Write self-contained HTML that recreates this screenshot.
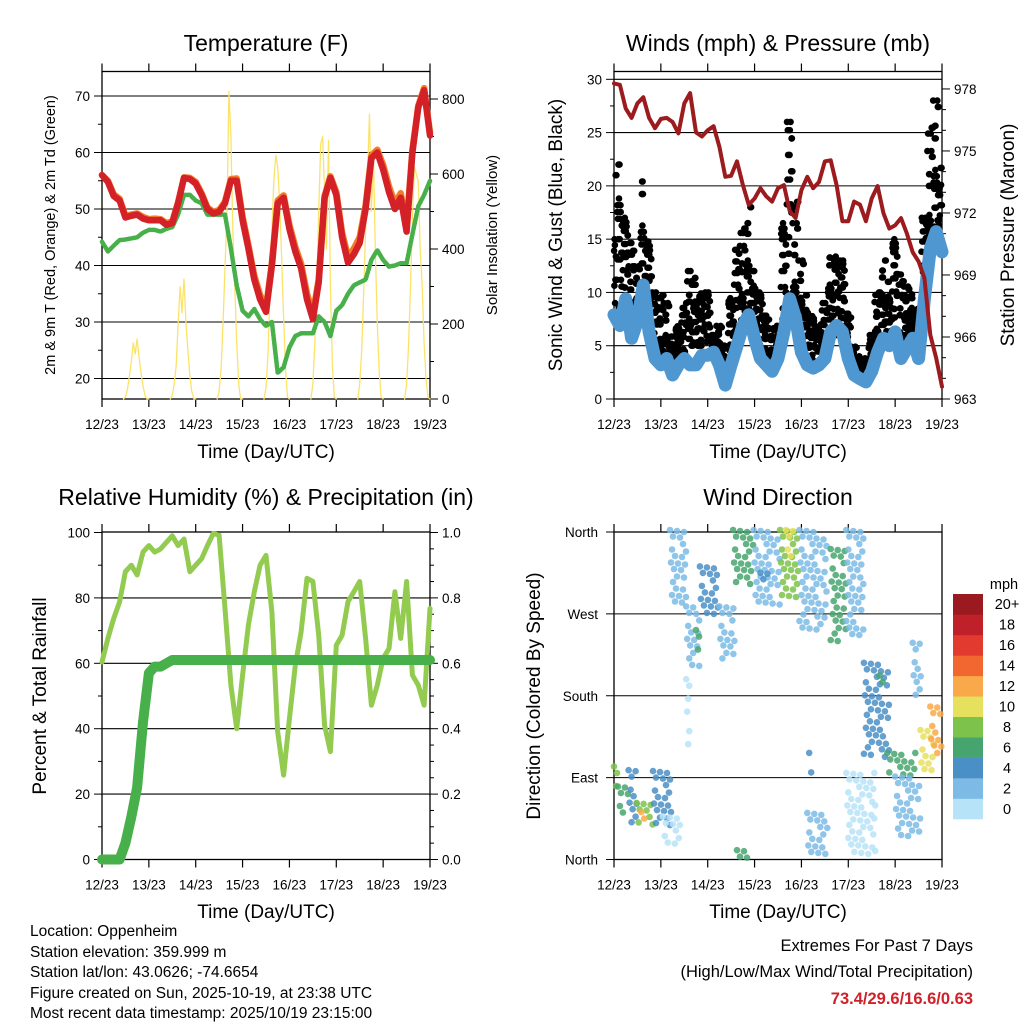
<!DOCTYPE html>
<html><head><meta charset="utf-8"><title>Station Meteogram</title>
<style>
html,body{margin:0;padding:0;background:#fff;}
svg{display:block;font-family:"Liberation Sans",sans-serif;}
</style></head>
<body>
<svg id="chart" width="1024" height="1024" viewBox="0 0 1024 1024" xmlns="http://www.w3.org/2000/svg">
<rect x="0" y="0" width="1024" height="1024" fill="#fff"/>
<text x="266" y="51" font-size="23" text-anchor="middle">Temperature (F)</text>
<text x="778" y="51" font-size="23" text-anchor="middle">Winds (mph) &amp; Pressure (mb)</text>
<text x="266" y="505" font-size="23" text-anchor="middle">Relative Humidity (%) &amp; Precipitation (in)</text>
<text x="778" y="505" font-size="23" text-anchor="middle">Wind Direction</text>
<text x="266" y="458" font-size="19" text-anchor="middle">Time (Day/UTC)</text>
<text x="778" y="458" font-size="19" text-anchor="middle">Time (Day/UTC)</text>
<text x="266" y="918" font-size="19" text-anchor="middle">Time (Day/UTC)</text>
<text x="778" y="918" font-size="19" text-anchor="middle">Time (Day/UTC)</text>
<text transform="translate(55,235) rotate(-90)" font-size="14.5" text-anchor="middle">2m &amp; 9m T (Red, Orange) &amp; 2m Td (Green)</text>
<text transform="translate(497,235) rotate(-90)" font-size="15" text-anchor="middle">Solar Insolation (Yellow)</text>
<text transform="translate(562,235) rotate(-90)" font-size="19" text-anchor="middle">Sonic Wind &amp; Gust (Blue, Black)</text>
<text transform="translate(1014,235) rotate(-90)" font-size="19" text-anchor="middle">Station Pressure (Maroon)</text>
<text transform="translate(46,696) rotate(-90)" font-size="19" text-anchor="middle">Percent &amp; Total Rainfall</text>
<text transform="translate(540,696) rotate(-90)" font-size="19" text-anchor="middle">Direction (Colored By Speed)</text>
<g font-size="15.5">
<text x="30" y="936">Location: Oppenheim</text>
<text x="30" y="957">Station elevation: 359.999 m</text>
<text x="30" y="977">Station lat/lon: 43.0626; -74.6654</text>
<text x="30" y="998">Figure created on Sun, 2025-10-19, at 23:38 UTC</text>
<text x="30" y="1018">Most recent data timestamp: 2025/10/19 23:15:00</text>
</g>
<text x="973" y="951" font-size="16.5" text-anchor="end">Extremes For Past 7 Days</text>
<text x="973" y="977" font-size="16.5" text-anchor="end">(High/Low/Max Wind/Total Precipitation)</text>
<text x="973" y="1004" font-size="16.5" font-weight="bold" fill="#d0212a" text-anchor="end">73.4/29.6/16.6/0.63</text>
<text x="1004" y="589" font-size="14.5" text-anchor="middle">mph</text>
</svg>
<script>
const dayLabels = ["12/23","13/23","14/23","15/23","16/23","17/23","18/23","19/23"];
// 3-hourly series (57 points, index 0 = 12/23 00 UTC)
const temp2m = [56,54.8,52.3,51.5,48.5,48.8,49,48.3,48,48,48,47.2,47.5,51,55.5,55.3,54.5,52.5,50,49.2,49.5,51,55,55,48,43,37.5,34,31.8,40,51,52,46.5,42.5,39.5,34,30.5,37,52,55.5,52.5,45,40.5,42,44,50,59,60,57,53,50,52,46,60,68,71,63];
const temp9m = [56,55,52.6,51.8,48.8,49,49.2,48.6,48.2,48.3,48.2,47.5,47.8,51.2,55.6,55.5,54.8,52.8,50.3,49.5,49.8,51.3,55.3,55.4,48.6,43.6,38.2,34.8,32.5,40.5,51.5,52.4,47.2,43.3,40.3,35,31.5,37.5,52.3,55.8,53,45.8,41.5,43,45,50.6,59.5,60.5,57.8,54,51,52.8,47,60.5,68.3,71.4,63.5];
const dewpoint = [44.2,42.5,43.5,44.5,44.6,44.8,45,45.8,46.3,46.3,46,46.5,46.8,49,52.5,52.5,51.5,51,49,49,49,49,43,36.5,32,31,32.3,30.5,29.3,30,21,22,25.5,27.5,28,28,28,31,30,27.5,32,33,35,36.5,37,37.5,41,42.7,41,39.8,40,40.4,40.4,45.5,50.5,52.5,55];
// solar insolation, hourly W/m2 for hours 12..23 UTC of each day
const solarDay12 = [5,25,60,100,150,120,160,110,70,35,10,0];
const solarDay13 = [10,40,90,200,300,230,320,200,130,60,20,0];
const solarDay14 = [20,80,200,350,500,820,700,450,300,150,40,0];
const solarDay15 = [30,120,280,450,580,650,620,520,380,220,80,5];
const solarDay16 = [40,150,300,500,680,700,550,400,690,300,90,5];
const solarDay17 = [40,130,280,450,600,760,500,650,400,200,70,5];
const solarDay18 = [40,140,300,480,620,600,580,400,300,150,50,5];
const pressure = [978.27,978.2,977.06,976.6,977.3,977.6,976.6,976.1,976.55,976.6,976.4,975.85,977.3,977.8,975.9,975.7,976.0,976.2,975.2,973.75,973.8,974.5,973.35,972.4,972.7,973.2,972.8,972.55,973.2,973.35,972.1,971.75,973.1,973.75,973.2,973.5,974.5,974.55,973.35,971.6,971.6,972.55,972.4,971.6,972.7,973.3,972.0,971.25,971.4,971.75,971.0,970.1,969.65,968.85,966.1,965.0,963.6];
const windSpeed = [7.9,6.9,9.4,5.7,7.3,10.7,6.3,3.8,3.2,3.8,2.25,3.2,3.8,3.2,3.2,4.1,4.1,4.4,3.2,1.3,3.2,5,6.9,7.9,5.7,3.8,3.2,2.6,3.8,6.3,9.4,7.6,4.4,3.2,2.9,3.2,3.8,6.3,6.9,6.3,3.8,2.25,1.9,1.6,2.6,4.4,5.7,5,6.3,3.8,4.75,5.7,3.8,9.4,14.1,15.7,13.8];
const gustLow = [9,8,8,7,7,8,7,4,4,3,3,3,4,5,5,5,4,4,4,2,4,6,7,7,6,4,4,3,4,7,9,8,6,4,3,3,4,6,6,6,4,3,2,2,3,5,6,5,6,5,6,6,5,10,14,15,15];
const gustHigh = [21,22,17,15,13,21,16,10,10,9,6,7,9,12,12,11,10,6,7,5,10,14,16,18,12,10,8,7,7,18,26,19,13,10,8,7,9,14,15,13,8,5,4,4,6,10,13,11,15,12,11,10,9,17,26,28,22];
const relHumidity = [60.4,67.6,73.7,78.8,88,90,87,94,96,94,95,97,99,96,98,88,90,92,96,99.7,99.2,76.8,53.3,40,56.4,71.7,81.9,90,93,75.7,39,25.8,43,59.4,69.6,86,85,68.6,41,33,65.5,68.6,78.8,81.9,85,67.6,47.2,53.3,61.5,64.5,81.9,67.6,85,56.4,53.3,47.2,76.8];
const precipTotal = [0,0,0,0,0.05,0.13,0.22,0.42,0.57,0.59,0.59,0.6,0.61,0.61,0.61,0.61,0.61,0.61,0.61,0.61,0.61,0.61,0.61,0.61,0.61,0.61,0.61,0.61,0.61,0.61,0.61,0.61,0.61,0.61,0.61,0.61,0.61,0.61,0.61,0.61,0.61,0.61,0.61,0.61,0.61,0.61,0.61,0.61,0.61,0.61,0.61,0.61,0.61,0.61,0.61,0.61,0.61];
// wind direction clusters: start hour, end hour, direction low, direction high, speed (mph)
const dirHourStart = [0,2,7.5,11.6,14,20,25,28.7,37,42,44,54,61,63,71.5,75,85,88,95,99,100,111,119,119,128,136,140,144,153,157,162,37];
const dirHourEnd   = [3,8,11.6,20.2,16,30,33.9,37.3,44,44,54,62,71.5,70,85,80,95,92,109,110.5,101,119,128,134,141,139,155,157,158,164,168,38.6];
const dirLow       = [74,45,38,34,40,35,10,276,210,225,265,218,298,0,280,295,284,330,247,1,90,236,243,1,111,180,89,19,177,93,111,104];
const dirHigh      = [100,78,96,60,50,95,45,360,276,250,320,276,360,8,360,313,360,360,360,49,115,339,360,93,214,200,115,89,236,140,166,196];
const dirSpeed     = [8.5,7,4,9,12,4,1.5,2,3,6,4,2.5,6.5,6,2,4,8.5,10.5,3,2,4,6,2,1.5,4,6,6.5,3,2,10.5,13.5,1];
const speedColors = ["#b7e3f8","#7dbbe6","#4a8fc6","#46a46e","#7dc24a","#e6e15c","#f9a94a","#f26630","#e23a2e","#c0202a","#9a1a1f"];
const colorbarLabels = ["0","2","4","6","8","10","12","14","16","18","20+"];
const tempTicks = [20,30,40,50,60,70];
const solarTicks = [0,200,400,600,800];
const windTicks = [0,5,10,15,20,25,30];
const pressureTicks = [963,966,969,972,975,978];
const rhTicks = [0,20,40,60,80,100];
const rainTicks = ["0.0","0.2","0.4","0.6","0.8","1.0"];
const dirTickLabels = ["North","East","South","West","North"];

const NS = "http://www.w3.org/2000/svg";
const svg = document.getElementById("chart");
function mk(tag, attrs, parent) {
  const el = document.createElementNS(NS, tag);
  for (const k in attrs) el.setAttribute(k, attrs[k]);
  (parent || svg).appendChild(el);
  return el;
}
function group(name) {
  const g = mk("g", {});
  
  
  return g;
}
const P1 = {x0:102, x1:430, y0:71.5, y1:399};
const P2 = {x0:614, x1:942, y0:71.5, y1:399};
const P3 = {x0:102, x1:430, y0:532, y1:859.5};
const P4 = {x0:614, x1:942, y0:532, y1:859.5};
function xHour(P, h) { return P.x0 + h / 168 * (P.x1 - P.x0); }
function xIdx(P, i) { return xHour(P, i * 3); }
const yTemp = v => 378.5 - (v - 20) * 5.65;
const ySolar = v => 399 - v * 0.375;
const yWind = v => 399 - v * (319.7 / 30);
const yPres = v => 399 - (v - 963) * 20.67;
const yRH = v => 859.5 - v * 3.27;
const yRain = v => 859.5 - v * 327;
const yDir = v => 859.5 - v / 360 * 327.5;

function drawFrame(P, pname) {
  const g = group(pname + "-axes");
  const f = mk("rect", {x:P.x0, y:P.y0, width:P.x1-P.x0, height:P.y1-P.y0, fill:"none", stroke:"#000", "stroke-width":1.3}, g);
  
  
  dayLabels.forEach((lab, d) => {
    const x = xHour(P, d * 24);
    mk("line", {x1:x, y1:P.y1, x2:x, y2:P.y1 + 8, stroke:"#000", "stroke-width":1.2}, g);
    mk("line", {x1:x, y1:P.y0, x2:x, y2:P.y0 - 8, stroke:"#000", "stroke-width":1.2}, g);
    const t = mk("text", {x:x, y:P.y1 + 30, "font-size":13.5, "text-anchor":"middle"}, g);
    t.textContent = lab;
    
    
  });
  return g;
}
function grid(P, y, g) {
  mk("line", {x1:P.x0, y1:y, x2:P.x1, y2:y, stroke:"#000", "stroke-width":1.1}, g);
}
function leftTick(P, y, len, g) { mk("line", {x1:P.x0 - len, y1:y, x2:P.x0, y2:y, stroke:"#000", "stroke-width":1}, g); }
function rightTick(P, y, len, g) { mk("line", {x1:P.x1, y1:y, x2:P.x1 + len, y2:y, stroke:"#000", "stroke-width":1}, g); }
function label(x, y, s, anchor, g) {
  const t = mk("text", {x:x, y:y + 5, "font-size":13.5, "text-anchor":anchor}, g);
  t.textContent = s;
  
  
}
function polyline(pts, attrs, parent) {
  return mk("polyline", Object.assign({points: pts.map(p => p[0].toFixed(1) + "," + p[1].toFixed(1)).join(" "), fill:"none", "stroke-linejoin":"round", "stroke-linecap":"round"}, attrs), parent);
}

// ---------- Panel 1: Temperature ----------
const g1 = drawFrame(P1, "temperature");
tempTicks.forEach(v => { grid(P1, yTemp(v), g1); leftTick(P1, yTemp(v), 8, g1); label(P1.x0 - 12, yTemp(v), String(v), "end", g1); });
[25,35,45,55,65].forEach(v => leftTick(P1, yTemp(v), 4, g1));
for (let v = 0; v <= 800; v += 100) rightTick(P1, ySolar(v), v % 200 === 0 ? 8 : 4, g1);
solarTicks.forEach(v => label(P1.x1 + 12, ySolar(v), String(v), "start", g1));
const solarDays = [solarDay12, solarDay13, solarDay14, solarDay15, solarDay16, solarDay17, solarDay18];
const solarG = group("solar-insolation-series");
solarDays.forEach((arr, d) => {
  const pts = [[xHour(P1, d*24 + 11), ySolar(0)]];
  arr.forEach((v, k) => pts.push([xHour(P1, d*24 + 12 + k), ySolar(v)]));
  pts.push([xHour(P1, d*24 + 24), ySolar(0)]);
  const pl = polyline(pts, {stroke:"#fbe36a", "stroke-width":1.3}, solarG);
  
  
});
const dewLine = polyline(dewpoint.map((v,i) => [xIdx(P1,i), yTemp(v)]), {stroke:"#48b04a", "stroke-width":4.5, "stroke-dasharray":"3 1.5"});


const t9Line = polyline(temp9m.map((v,i) => [xIdx(P1,i), yTemp(v)]), {stroke:"#f47b2a", "stroke-width":6.5});


const t2Line = polyline(temp2m.map((v,i) => [xIdx(P1,i), yTemp(v)]), {stroke:"#d42027", "stroke-width":6.5});



// ---------- Panel 2: Winds & Pressure ----------
const g2 = drawFrame(P2, "winds");
windTicks.forEach(v => { if (v > 0) grid(P2, yWind(v), g2); leftTick(P2, yWind(v), 8, g2); label(P2.x0 - 12, yWind(v), String(v), "end", g2); });
for (let v = 2.5; v < 32; v += 5) leftTick(P2, yWind(v), 4, g2);
for (let v = 963; v <= 978; v++) rightTick(P2, yPres(v), (v - 963) % 3 === 0 ? 8 : 4, g2);
pressureTicks.forEach(v => label(P2.x1 + 12, yPres(v), String(v), "start", g2));
const gustG = group("gust-points");
const step = xIdx(P2,1) - xIdx(P2,0);
gustLow.forEach((lo, i) => {
  const hi = gustHigh[i];
  const n = 23;
  for (let k = 0; k < n; k++) {
    const frac = ((k * k * 7 + k * 3 + i * 5) % n) / (n - 1);
    const x = xIdx(P2, i) + (k / n - 0.5) * step;
    if (x < P2.x0 || x > P2.x1) continue;
    const c = mk("circle", {cx:x.toFixed(1), cy:yWind(lo + (hi - lo) * frac).toFixed(1), r:3.3, fill:"#000"}, gustG);
    
    
  }
});
const windLine = polyline(windSpeed.map((v,i) => [xIdx(P2,i), yWind(v)]), {stroke:"#4f97d0", "stroke-width":13});


const presLine = polyline(pressure.map((v,i) => [xIdx(P2,i), yPres(v)]), {stroke:"#9b1b1e", "stroke-width":4});



// ---------- Panel 3: RH & Precipitation ----------
const g3 = drawFrame(P3, "humidity");
rhTicks.forEach(v => { if (v > 0 && v < 100) grid(P3, yRH(v), g3); leftTick(P3, yRH(v), 8, g3); label(P3.x0 - 12, yRH(v), String(v), "end", g3); });
for (let v = 10; v < 100; v += 20) leftTick(P3, yRH(v), 4, g3);
for (let k = 0; k <= 20; k++) rightTick(P3, yRain(k * 0.05), k % 4 === 0 ? 8 : 4, g3);
rainTicks.forEach(s => label(P3.x1 + 12, yRain(parseFloat(s)), s, "start", g3));
const rhLine = polyline(relHumidity.map((v,i) => [xIdx(P3,i), yRH(v)]), {stroke:"#92cb50", "stroke-width":5});


const rainLine = polyline(precipTotal.map((v,i) => [xIdx(P3,i), yRain(v)]), {stroke:"#48b04a", "stroke-width":10});



// ---------- Panel 4: Wind Direction ----------
const g4 = drawFrame(P4, "direction");
dirTickLabels.forEach((s, k) => {
  const y = yDir(k * 90);
  if (k > 0 && k < 4) grid(P4, y, g4);
  leftTick(P4, y, 8, g4);
  label(P4.x0 - 16, y, s, "end", g4);
});
const dirG = group("direction-points");
dirHourStart.forEach((h0, c) => {
  const h1 = dirHourEnd[c];
  const col = speedColors[Math.min(10, Math.floor(dirSpeed[c] / 2))];
  const xa = xHour(P4, h0), xb = xHour(P4, h1);
  const ya = yDir(dirHigh[c]), yb = yDir(dirLow[c]);
  let row = 0;
  for (let y = ya; y <= yb + 0.1; y += 6.5, row++) {
    let col2 = 0;
    for (let x = xa + ((row * 3) % 7); x <= xb + 0.1; x += 7, col2++) {
      if ((row * 2 + col2 * 3) % 5 === 4) continue;
      const p = mk("circle", {cx:x.toFixed(1), cy:(y + ((col2 * 5) % 4) - 2).toFixed(1), r:3.3, fill:col, "fill-opacity":0.85}, dirG);
      
      
    }
  }
});
// colorbar
const cb = group("speed-colorbar");
const boxH = 225 / 11;
speedColors.forEach((col, k) => {
  const y = 819 - (k + 1) * boxH;
  const r = mk("rect", {x:953, y:y.toFixed(2), width:30, height:(boxH + 0.3).toFixed(2), fill:col}, cb);
  
  
  const t = mk("text", {x:1007, y:(y + boxH/2 + 5).toFixed(1), "font-size":14.5, "text-anchor":"middle"}, cb);
  t.textContent = colorbarLabels[k];
  
  
});
</script>
</body></html>
